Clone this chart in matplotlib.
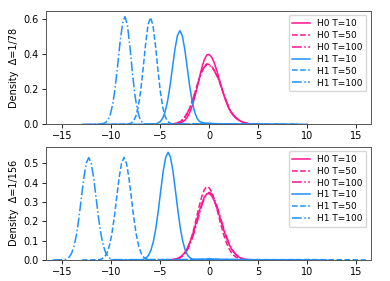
import numpy as np
import matplotlib
matplotlib.use("Agg")
import matplotlib.pyplot as plt

# ---------------- data (densities) ----------------
h0_x = np.arange(-4.0, 5.01, 0.25)

# Panel 1 : Delta = 1/78
p1_h0_t10 = [0.0002, 0.0005, 0.0012, 0.0028, 0.006, 0.012, 0.022, 0.040, 0.066, 0.103,
             0.150, 0.207, 0.267, 0.324, 0.369, 0.396, 0.399, 0.383, 0.353, 0.311,
             0.263, 0.212, 0.166, 0.126, 0.090, 0.066, 0.048, 0.034, 0.024, 0.016,
             0.010, 0.006, 0.003, 0.0015, 0.0007, 0.0003, 0.0]
p1_h0_t50 = [0.0009, 0.0019, 0.0038, 0.0074, 0.0135, 0.0235, 0.039, 0.061, 0.090, 0.128,
             0.172, 0.219, 0.265, 0.304, 0.332, 0.345, 0.341, 0.330, 0.310, 0.282,
             0.250, 0.208, 0.166, 0.127, 0.094, 0.069, 0.050, 0.036, 0.026, 0.018,
             0.011, 0.007, 0.004, 0.002, 0.001, 0.0005, 0.0]
p1_h0_t100 = [0.001, 0.002, 0.004, 0.008, 0.015, 0.026, 0.042, 0.064, 0.093, 0.130,
              0.173, 0.218, 0.262, 0.300, 0.327, 0.339, 0.337, 0.326, 0.307, 0.280,
              0.248, 0.210, 0.170, 0.132, 0.098, 0.071, 0.052, 0.037, 0.026, 0.018,
              0.012, 0.007, 0.004, 0.002, 0.001, 0.0005, 0.0]

p1_h1_t10_x = [-12, -6, -5.5, -5.25, -5.0, -4.75, -4.5, -4.25, -4.0, -3.75, -3.5, -3.25,
               -3.0, -2.75, -2.5, -2.25, -2.0, -1.75, -1.5, -1.25, -1.0, -0.5, 0, 0.5,
               1.5, 4, 10]
p1_h1_t10_y = [0, 0.0005, 0.002, 0.006, 0.015, 0.035, 0.072, 0.133, 0.220, 0.325, 0.429,
               0.506, 0.535, 0.506, 0.429, 0.325, 0.220, 0.133, 0.072, 0.035, 0.016,
               0.007, 0.006, 0.004, 0.002, 0.001, 0]

p1_h1_t50_x = [-10, -8.5, -8.25, -8.0, -7.75, -7.5, -7.25, -7.0, -6.75, -6.5, -6.25, -6.0,
               -5.75, -5.5, -5.25, -5.0, -4.75, -4.5, -4.25, -4.0, -3.75, -3.0, -1.5, 0,
               1.5, 4, 9]
p1_h1_t50_y = [0, 0.001, 0.002, 0.006, 0.017, 0.044, 0.099, 0.190, 0.317, 0.456, 0.567,
               0.610, 0.567, 0.456, 0.317, 0.190, 0.099, 0.044, 0.017, 0.006, 0.003,
               0.002, 0.002, 0.003, 0.002, 0.001, 0]

p1_h1_t100_x = [-13, -12, -11.1, -10.85, -10.6, -10.35, -10.1, -9.85, -9.6, -9.35, -9.1,
                -8.85, -8.6, -8.35, -8.1, -7.85, -7.6, -7.35, -7.1, -6.85, -6.6, -6.35,
                -5, -2, 0, 4, 9]
p1_h1_t100_y = [0, 0.001, 0.002, 0.004, 0.009, 0.023, 0.055, 0.115, 0.210, 0.335, 0.470,
                0.575, 0.615, 0.565, 0.445, 0.300, 0.172, 0.084, 0.035, 0.012, 0.004,
                0.002, 0.002, 0.002, 0.003, 0.001, 0]

# Panel 2 : Delta = 1/156
p2_h0_t10 = [0.0011, 0.0022, 0.0044, 0.0081, 0.0144, 0.0243, 0.039, 0.060, 0.088, 0.123,
             0.164, 0.209, 0.254, 0.294, 0.325, 0.342, 0.344, 0.332, 0.307, 0.274,
             0.234, 0.193, 0.152, 0.115, 0.084, 0.059, 0.040, 0.026, 0.016, 0.0095,
             0.0055, 0.003, 0.0016, 0.0008, 0.0004, 0.0002, 0.0]
p2_h0_t50 = [0.0005, 0.0012, 0.0027, 0.0056, 0.0108, 0.020, 0.034, 0.056, 0.087, 0.127,
             0.176, 0.230, 0.283, 0.330, 0.364, 0.379, 0.373, 0.351, 0.315, 0.270,
             0.220, 0.171, 0.127, 0.090, 0.061, 0.039, 0.024, 0.014, 0.0079, 0.0043,
             0.0022, 0.0011, 0.0005, 0.0002, 0.0001, 0.0, 0.0]
p2_h0_t100 = [0.0008, 0.0016, 0.0032, 0.0062, 0.011, 0.019, 0.032, 0.050, 0.076, 0.109,
              0.149, 0.194, 0.240, 0.283, 0.318, 0.340, 0.350, 0.343, 0.320, 0.286,
              0.245, 0.202, 0.160, 0.122, 0.089, 0.063, 0.043, 0.028, 0.018, 0.011,
              0.0065, 0.0036, 0.0019, 0.001, 0.0005, 0.0002, 0.0]

p2_h1_t10_x = [-10, -7.5, -6.95, -6.7, -6.45, -6.2, -5.95, -5.7, -5.45, -5.2, -4.95, -4.7,
               -4.45, -4.2, -3.95, -3.7, -3.45, -3.2, -2.95, -2.7, -2.45, -2.2, -1.95,
               -1.7, -1.45, -0.5, 0, 0.5, 2, 6, 12]
p2_h1_t10_y = [0, 0.0005, 0.0015, 0.004, 0.011, 0.024, 0.051, 0.096, 0.164, 0.255, 0.359,
               0.458, 0.530, 0.557, 0.530, 0.458, 0.359, 0.255, 0.164, 0.096, 0.051,
               0.024, 0.011, 0.005, 0.003, 0.004, 0.006, 0.004, 0.002, 0.001, 0]

p2_h1_t50_x = [-13, -12, -11.2, -10.95, -10.7, -10.45, -10.2, -9.95, -9.7, -9.45, -9.2,
               -8.95, -8.7, -8.45, -8.2, -7.95, -7.7, -7.45, -7.2, -6.95, -6.7, -6.45,
               -6.2, -5, -2, 0, 5, 10, 15, 16]
p2_h1_t50_y = [0, 0.001, 0.002, 0.006, 0.015, 0.035, 0.072, 0.132, 0.218, 0.322, 0.425,
               0.501, 0.530, 0.501, 0.425, 0.322, 0.218, 0.132, 0.072, 0.035, 0.015,
               0.006, 0.002, 0.002, 0.002, 0.003, 0.002, 0.002, 0.001, 0]

p2_h1_t100_x = [-16, -15.5, -14.8, -14.55, -14.3, -14.05, -13.8, -13.55, -13.3, -13.05,
                -12.8, -12.55, -12.3, -12.05, -11.8, -11.55, -11.3, -11.05, -10.8,
                -10.55, -10.3, -10.05, -9.8, -8, -4, 0, 5, 10]
p2_h1_t100_y = [0, 0.001, 0.002, 0.006, 0.015, 0.035, 0.072, 0.132, 0.218, 0.322, 0.425,
                0.501, 0.530, 0.501, 0.425, 0.322, 0.218, 0.132, 0.072, 0.035, 0.015,
                0.006, 0.002, 0.002, 0.002, 0.003, 0.001, 0]

labels = ["H0 T=10", "H0 T=50", "H0 T=100", "H1 T=10", "H1 T=50", "H1 T=100"]
ylabels = ["Density  \u0394=1/78", "Density  \u0394=1/156"]
xticks = [-15, -10, -5, 0, 5, 10, 15]

# ---------------- styling ----------------
PINK = "#ff1493"
BLUE = "#1e90ff"
styles = ["-", "--", "-."]

plt.rcParams["font.family"] = ["DejaVu Sans"]
fig = plt.figure(figsize=(3.9, 2.81), dpi=100)
ax1 = fig.add_axes([0.117, 0.5577, 0.834, 0.4033])
ax2 = fig.add_axes([0.117, 0.0747, 0.834, 0.4033])

panels = [
    (ax1, [p1_h0_t10, p1_h0_t50, p1_h0_t100],
     [(p1_h1_t10_x, p1_h1_t10_y), (p1_h1_t50_x, p1_h1_t50_y), (p1_h1_t100_x, p1_h1_t100_y)],
     [0.0, 0.2, 0.4, 0.6], 0.647),
    (ax2, [p2_h0_t10, p2_h0_t50, p2_h0_t100],
     [(p2_h1_t10_x, p2_h1_t10_y), (p2_h1_t50_x, p2_h1_t50_y), (p2_h1_t100_x, p2_h1_t100_y)],
     [0.0, 0.1, 0.2, 0.3, 0.4, 0.5], 0.586),
]

for i, (ax, h0s, h1s, yt, ytop) in enumerate(panels):
    for k, y in enumerate(h0s):
        ax.plot(h0_x, y, color=PINK, ls=styles[k], lw=1.1, label=labels[k])
    for k, (x, y) in enumerate(h1s):
        ax.plot(x, y, color=BLUE, ls=styles[k], lw=1.1, label=labels[3 + k])
    ax.set_xlim(-16.7, 16.5)
    ax.set_ylim(0, ytop)
    ax.set_xticks(xticks)
    ax.set_yticks(yt)
    ax.tick_params(labelsize=7, length=3, width=0.6, pad=2)
    ax.set_ylabel(ylabels[i], fontsize=7, labelpad=3)
    for s in ax.spines.values():
        s.set_linewidth(0.7)
        s.set_color("#555555")
    ax.legend(loc="upper right", fontsize=6.5, handlelength=2.0,
              labelspacing=0.32, borderpad=0.4, handletextpad=0.75,
              framealpha=0.8, edgecolor="#cccccc", fancybox=True,
              borderaxespad=0.5)

fig.savefig("out.png", dpi=100)
